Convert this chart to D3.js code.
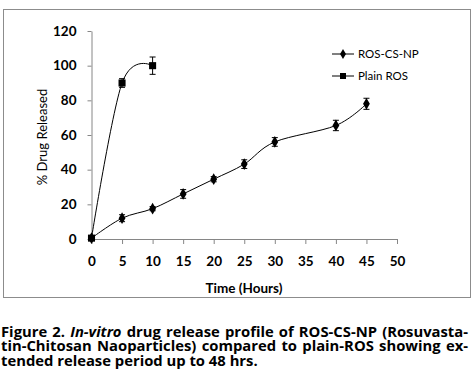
<!DOCTYPE html>
<html>
<head>
<meta charset="utf-8">
<script src="https://cdn.jsdelivr.net/npm/d3@7"></script>
<style>
body { margin: 0; background: #fff; }
svg { display: block; }
</style>
</head>
<body>
<svg id="chart" width="472" height="387"></svg>
<script>
// values
var hours = [0, 5, 10, 15, 20, 25, 30, 40, 45];
var nanoRelease = [0.5, 12, 17.5, 26, 34.5, 43.2, 56, 65.5, 78];
var nanoErr = [0.5, 2, 1.2, 2.5, 1.5, 2.5, 2.5, 3, 3.2];

var plainHours = [0, 5, 10];
var plainRelease = [0.5, 90, 100];
var plainErr = [0.5, 2.5, 5];

var xTicks = [0, 5, 10, 15, 20, 25, 30, 35, 40, 45, 50];
var yTicks = [0, 20, 40, 60, 80, 100, 120];
var seriesNames = ["ROS-CS-NP", "Plain ROS"];

// each line: [before italic, italic, after]
var captionLines = [
  ["Figure 2. ", "In-vitro", " drug release profile of ROS-CS-NP (Rosuvasta-"],
  ["tin-Chitosan Naoparticles) compared to plain-ROS showing ex-", "", ""],
  ["tended release period up to 48 hrs.", "", ""]
];

var svg = d3.select("#chart");
var font = "Lato, 'Open Sans', sans-serif";

svg.append("rect")
    .attr("x", 3.5).attr("y", 9.5)
    .attr("width", 467).attr("height", 288)
    .attr("fill", "#fff")
    .attr("stroke", "#8c8c8c");

var x = d3.scaleLinear().domain([0, 50]).range([91.5, 397]);
var y = d3.scaleLinear().domain([0, 120]).range([239, 31]);

var xAxis = svg.append("g")
    .attr("transform", "translate(0,239)")
    .call(d3.axisBottom(x).tickValues(xTicks).tickSize(5).tickSizeOuter(0).tickPadding(12));
var yAxis = svg.append("g")
    .attr("transform", "translate(91.5,0)")
    .call(d3.axisLeft(y).tickValues(yTicks).tickSize(4).tickSizeOuter(0).tickPadding(11));

[xAxis, yAxis].forEach(function(g) {
  g.selectAll("path, line").attr("stroke", "#868686");
  g.selectAll("text")
      .attr("fill", "#000")
      .style("font-family", font)
      .style("font-weight", "bold")
      .style("font-size", "13.5px");
});

svg.append("text")
    .attr("x", 244).attr("y", 293)
    .attr("text-anchor", "middle")
    .style("font-family", font).style("font-weight", "bold").style("font-size", "13.5px")
    .text("Time (Hours)");

svg.append("text")
    .attr("transform", "translate(47,137) rotate(-90)")
    .attr("text-anchor", "middle")
    .style("font-family", font).style("font-size", "13px")
    .text("% Drug Released");

var line = d3.line()
    .x(function(d) { return x(d[0]); })
    .y(function(d) { return y(d[1]); })
    .curve(d3.curveCardinal.tension(0));

function drawSeries(xs, ys, es, shape) {
  var pts = xs.map(function(v, i) { return [v, ys[i], es[i]]; });
  svg.append("path")
      .datum(pts)
      .attr("d", line)
      .attr("fill", "none")
      .attr("stroke", "#000")
      .attr("stroke-width", 1);

  var eb = svg.append("g").attr("stroke", "#000").attr("stroke-width", 1);
  pts.forEach(function(d) {
    if (d[2] < 1) return;
    var cx = x(d[0]);
    eb.append("line").attr("x1", cx).attr("x2", cx).attr("y1", y(d[1] - d[2])).attr("y2", y(d[1] + d[2]));
    eb.append("line").attr("x1", cx - 3).attr("x2", cx + 3).attr("y1", y(d[1] + d[2])).attr("y2", y(d[1] + d[2]));
    eb.append("line").attr("x1", cx - 3).attr("x2", cx + 3).attr("y1", y(d[1] - d[2])).attr("y2", y(d[1] - d[2]));
  });

  svg.append("g").selectAll("path")
      .data(pts)
    .enter().append("path")
      .attr("transform", function(d) { return "translate(" + x(d[0]) + "," + y(d[1]) + ")"; })
      .attr("d", d3.symbol().type(shape).size(shape === d3.symbolSquare ? 50 : 40))
      .attr("fill", "#000");
}

drawSeries(hours, nanoRelease, nanoErr, d3.symbolDiamond);
drawSeries(plainHours, plainRelease, plainErr, d3.symbolSquare);

// legend
var legend = svg.append("g");
seriesNames.forEach(function(name, i) {
  var ly = 54 + i * 22;
  legend.append("line")
      .attr("x1", 332).attr("x2", 354).attr("y1", ly).attr("y2", ly)
      .attr("stroke", "#000");
  legend.append("path")
      .attr("transform", "translate(343," + ly + ")")
      .attr("d", d3.symbol().type(i === 0 ? d3.symbolDiamond : d3.symbolSquare).size(i === 0 ? 30 : 36))
      .attr("fill", "#000");
  legend.append("text")
      .attr("x", 358).attr("y", ly + 4)
      .style("font-family", font).style("font-size", "11.5px")
      .text(name);
});

// caption, justified by spreading word spacing
var cap = svg.append("g")
    .style("font-family", "'Open Sans', sans-serif")
    .style("font-weight", "bold")
    .style("font-size", "14.8px");
captionLines.forEach(function(parts, li) {
  var t = cap.append("text").attr("x", 1).attr("y", 336.5 + li * 14.5);
  parts.forEach(function(p, k) {
    if (p) t.append("tspan").style("font-style", k === 1 ? "italic" : "normal").text(p);
  });
  if (li < 2) {
    var full = parts.join("");
    var gaps = full.split(" ").length - 1;
    var w = t.node().getComputedTextLength();
    t.attr("word-spacing", (467 - w) / gaps);
  }
});
</script>
</body>
</html>
